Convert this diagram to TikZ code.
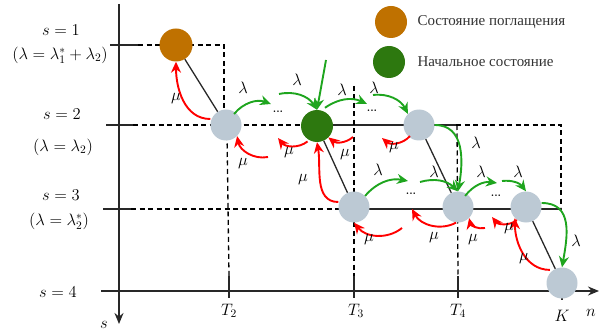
\documentclass[tikz,border=0pt]{standalone}
\usepackage{graphicx}
\usepackage{fontspec}
\newfontfamily\rufont{Liberation Serif}
\newcommand\mlab[1]{\scalebox{1.15}{$#1$}}
\usetikzlibrary{arrows.meta,backgrounds}
\definecolor{absb}{RGB}{191,113,0}
\definecolor{startg}{RGB}{45,120,15}
\definecolor{stgrey}{RGB}{188,201,212}
\definecolor{lamc}{RGB}{30,165,30}
\definecolor{axc}{RGB}{40,40,40}
\begin{document}
\begin{tikzpicture}[x=1pt,y=-1pt,font=\fontsize{14.4}{17}\selectfont,
  st/.style={circle,minimum size=31pt,inner sep=0pt,fill=stgrey},
  ar/.style={line width=1.9pt,-{Stealth[length=11pt,width=10pt]}},
  gl/.style={ar,draw=lamc},
  mu/.style={ar,draw=red},
  grid/.style={line width=1.3pt,dash pattern=on 5pt off 3.5pt},
  axis/.style={line width=1.8pt,draw=axc},
  tick/.style={line width=2.6pt,draw=axc},
  diag/.style={line width=1.3pt,draw=axc},
  lbl/.style={inner sep=1pt}]
\useasboundingbox (0,0) rectangle (601,331);
% states
\node[st,fill=absb,minimum size=33pt] (abs) at (176,45) {};
\node[st] (a) at (226,125) {};
\node[st,fill=startg,minimum size=32pt] (g) at (317,126) {};
\node[st] (b) at (419,125) {};
\node[st] (c) at (354,207) {};
\node[st] (d) at (458,207) {};
\node[st] (e) at (526,207) {};
\node[st] (f) at (562,283) {};
% legend
\node[st,fill=absb,minimum size=32pt] (l1) at (391,22) {};
\node[anchor=west,font=\rufont\fontsize{15}{17}\selectfont,text=black!80] (l1t) at (414,22) {Состояние поглащения};
\node[st,fill=startg,minimum size=32pt] (l2) at (389,62) {};
\node[anchor=west,font=\rufont\fontsize{15}{17}\selectfont,text=black!80] (l2t) at (414,62) {Начальное состояние};
% axis coordinates
\coordinate (stop) at (119,4);
\coordinate (sbot) at (119,324);
\coordinate (nl) at (101,291);
\coordinate (nr) at (599,291);
\begin{scope}[on background layer]
  % axes
  \draw[axis,-{Stealth[length=11pt,width=9pt]}] (stop) -- (sbot);
  \draw[axis,-{Stealth[length=11pt,width=9pt]}] (nl) -- (nr);
  % s ticks
  \draw[tick] (110,45) -- (138,45);
  \draw[tick] (106,125) -- (133,125);
  \draw[tick] (103,209) -- (131,209);
  % n ticks
  \draw[tick] (229,276) -- (229,298);
  \draw[tick] (354,276) -- (354,298);
  \draw[tick] (458,276) -- (458,298);
  \draw[tick] (562,291) -- (562,300);
  % grid lines
  \draw[grid] (138,45) -- (224,45) -- (224,112);
  \draw[grid] (227,135) -- (229,276);
  \draw[grid] (133,125) -- (317,125);
  \draw[line width=1.5pt,draw=axc] (317,125) -- (456,125);
  \draw[grid] (456,125) -- (561,125) -- (561,207);
  \draw[grid] (354,86) -- (354,276);
  \draw[grid] (457,125) -- (458,276);
  \draw[grid] (131,209) -- (354,209);
  \draw[line width=1.5pt,draw=axc] (354,209) -- (562,209);
\end{scope}
% diagonals
\draw[diag] (abs) -- (a);
\draw[diag] (g) -- (c);
\draw[diag] (b) -- (d);
\draw[diag] (e) -- (f);
% axis labels
\node[lbl] (slab) at (104,325) {\mlab{s}};
\node[lbl] (nlab) at (591,313) {\mlab{n}};
\node[lbl] (s1) at (61,30) {\mlab{s=1}};
\node[lbl] (s1l) at (60,55) {\mlab{(\lambda=\lambda_1^{*}+\lambda_2)}};
\node[lbl] (s2) at (62,114) {\mlab{s=2}};
\node[lbl] (s2l) at (63,147) {\mlab{(\lambda=\lambda_2)}};
\node[lbl] (s3) at (61,195) {\mlab{s=3}};
\node[lbl] (s3l) at (59,221) {\mlab{(\lambda=\lambda_2^{*})}};
\node[lbl] (s4) at (58,292) {\mlab{s=4}};
\node[lbl] (t2) at (229,311) {\mlab{T_2}};
\node[lbl] (t3) at (356,311) {\mlab{T_3}};
\node[lbl] (t4) at (458,311) {\mlab{T_4}};
\node[lbl] (kk) at (562,316) {\mlab{K}};
% dots
\node[lbl,font=\bfseries\fontsize{11}{12}\selectfont] (dt1) at (278,112) {...};
\node[lbl,font=\bfseries\fontsize{11}{12}\selectfont] (dt2) at (372,111) {...};
\node[lbl,font=\bfseries\fontsize{11}{12}\selectfont] (dt3) at (411,194) {...};
\node[lbl,font=\bfseries\fontsize{11}{12}\selectfont] (dt4) at (496,196) {...};
% free ends
\coordinate (g1e) at (271,104);
\coordinate (g2s) at (279,94);
\coordinate (g3s) at (326,60);
\coordinate (g4e) at (367,104);
\coordinate (g5s) at (373,95);
\coordinate (g8e) at (408,181);
\coordinate (g9s) at (420,182);
\coordinate (g10e) at (497,183);
\coordinate (g11s) at (502,181);
% lambda arrows
\draw[gl] (a.north east) ++(-3,0) to[bend left=35] (g1e);
\draw[gl] (g2s) to[bend left=35] (g.north);
\draw[gl] (g3s) -- (g.north);
\draw[gl] (g.north) ++(8,-2) to[bend left=30] (g4e);
\draw[gl] (g5s) to[bend left=35] (b.north west);
\draw[gl] (b.east) to[out=0,in=80,looseness=1.1] (d.north);
\draw[gl] (c.north east) to[bend left=30] (g8e);
\draw[gl] (g9s) to[bend left=30] (d.north);
\draw[gl] (d.north east) ++(-4,0) to[bend left=30] (g10e);
\draw[gl] (g11s) to[bend left=30] (e.north);
\draw[gl] (e.east) ++(0,-4) to[out=0,in=80,looseness=1.2] (f.north);
% lambda labels
\node[lbl] (la1) at (243,88) {\mlab{\lambda}};
\node[lbl] (la2) at (297,80) {\mlab{\lambda}};
\node[lbl] (la3) at (342,90) {\mlab{\lambda}};
\node[lbl] (la4) at (374,88) {\mlab{\lambda}};
\node[lbl] (la5) at (476,143) {\mlab{\lambda}};
\node[lbl] (la6) at (378,170) {\mlab{\lambda}};
\node[lbl] (la7) at (434,172) {\mlab{\lambda}};
\node[lbl] (la8) at (481,172) {\mlab{\lambda}};
\node[lbl] (la9) at (518,172) {\mlab{\lambda}};
\node[lbl] (la10) at (576,241) {\mlab{\lambda}};
% mu free ends
\coordinate (m2s) at (268,157);
\coordinate (m3e) at (278,138);
\coordinate (m4s) at (353,137);
\coordinate (m6e) at (382,138);
\coordinate (m7s) at (402,228);
\coordinate (m8e) at (412,209);
\coordinate (m9s) at (485,228);
\coordinate (m10e) at (492,217);
% mu arrows
\draw[mu] (a.west) ++(0,-6) to[out=180,in=270,looseness=1] (abs.south);
\draw[mu] (m2s) to[bend left=45] (a.south east);
\draw[mu] (g.south west) ++(2,4) to[bend left=45] (m3e);
\draw[mu] (m4s) to[bend left=40] (g.south east);
\draw[mu] (c.west) ++(0,-5) to[out=180,in=280,looseness=1] (g.south);
\draw[mu] (b.south west) ++(2,0) to[bend left=45] (m6e);
\draw[mu] (m7s) to[bend left=45] (c.south);
\draw[mu] (d.south) ++(-2,0) to[bend left=45] (m8e);
\draw[mu] (m9s) to[bend left=45] (d.south east);
\draw[mu] (e.south west) ++(2,2) to[bend left=45] (m10e);
\draw[mu] (f.north west) ++(-1,-2) to[out=180,in=270,looseness=1] (e.south west);
% mu labels
\node[lbl] (mu1) at (176,99) {\mlab{\mu}};
\node[lbl] (mu2) at (243,164) {\mlab{\mu}};
\node[lbl] (mu3) at (289,153) {\mlab{\mu}};
\node[lbl] (mu4) at (345,155) {\mlab{\mu}};
\node[lbl] (mu5) at (303,180) {\mlab{\mu}};
\node[lbl] (mu6) at (394,148) {\mlab{\mu}};
\node[lbl] (mu7) at (369,240) {\mlab{\mu}};
\node[lbl] (mu8) at (434,238) {\mlab{\mu}};
\node[lbl] (mu9) at (473,240) {\mlab{\mu}};
\node[lbl] (mu10) at (509,229) {\mlab{\mu}};
\node[lbl] (mu11) at (524,259) {\mlab{\mu}};
\end{tikzpicture}
\end{document}
